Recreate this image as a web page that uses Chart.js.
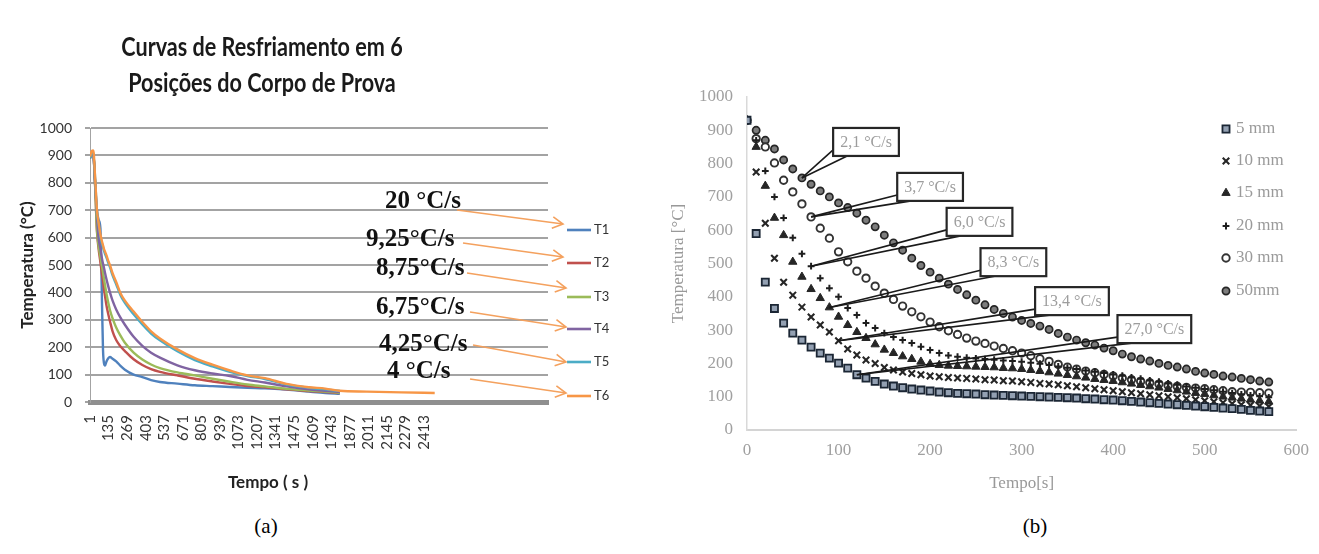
<!DOCTYPE html>
<html><head><meta charset="utf-8">
<script src="https://cdn.jsdelivr.net/npm/chart.js@4.4.1/dist/chart.umd.min.js"></script>
<style>
html,body{margin:0;padding:0;background:#fff;}
#wrap{position:relative;width:1319px;height:554px;overflow:hidden;background:#fff;}
#ca{position:absolute;left:0;top:0;width:660px;height:510px;}
#cb{position:absolute;left:660px;top:0;width:659px;height:510px;}
.cap{position:absolute;top:514px;font-family:'Liberation Serif',serif;font-size:21px;color:#000;transform:translateX(-50%);}
#titleA{position:absolute;left:262px;top:28px;transform:translateX(-50%) scaleX(0.8);transform-origin:center;
  font-family:Lato,sans-serif;font-weight:bold;font-size:27px;line-height:36px;color:#1a1a1a;text-align:center;white-space:nowrap;}
</style></head><body>
<div id="wrap">
<canvas id="ca" width="660" height="510"></canvas>
<canvas id="cb" width="659" height="510"></canvas>
<div id="titleA"></div>
<div class="cap" style="left:266px">(a)</div>
<div class="cap" style="left:1035px">(b)</div>
</div>
<script>
// ---------------- DATA : chart (a) ----------------
const titleA = ['Curvas de Resfriamento em 6', 'Posições do Corpo de Prova'];
const namesA = ['T1', 'T2', 'T3', 'T4', 'T5', 'T6'];
const xTicksA = [1, 135, 269, 403, 537, 671, 805, 939, 1073, 1207, 1341, 1475, 1609, 1743, 1877, 2011, 2145, 2279, 2413];
const tA = [1, 13, 25, 38, 51, 63, 76, 82, 88, 95, 101, 110, 120, 133, 145, 164, 190, 221, 253, 316, 379, 442, 506, 632, 758, 885, 1011, 1138, 1264, 1420, 1580, 1700, 1805, 2000, 2250, 2490];
const T1 = [890, 905, 902, 795, 700, 665, 635, 520, 350, 190, 145, 133, 148, 160, 164, 158, 148, 132, 118, 100, 91, 80, 73, 67, 61, 58, 55, 52, 50, 45, 38, 33, 30, null, null, null];
const T2 = [890, 905, 902, 790, 625, 560, 510, 487, 463, 440, 415, 385, 352, 320, 295, 258, 226, 203, 186, 156, 135, 120, 110, 97, 85, 75, 66, 58, 54, 46, 40, 36, 33, null, null, null];
const T3 = [890, 905, 902, 790, 630, 570, 530, 510, 493, 472, 452, 425, 395, 362, 336, 305, 272, 242, 216, 180, 155, 137, 124, 108, 97, 85, 74, 64, 57, 48, 42, 38, 34, null, null, null];
const T4 = [890, 905, 902, 800, 680, 597, 560, 540, 522, 505, 492, 470, 448, 422, 400, 370, 338, 308, 282, 238, 205, 180, 162, 134, 116, 104, 95, 81, 71, 57, 46, 41, 36, null, null, null];
const T5 = [890, 908, 910, 815, 695, 650, 605, 590, 577, 565, 553, 540, 527, 508, 492, 462, 430, 390, 362, 320, 283, 250, 225, 185, 153, 130, 110, 95, 84, 64, 52, 46, 40, null, null, null];
const T6 = [895, 915, 918, 820, 700, 655, 612, 598, 585, 572, 560, 548, 535, 515, 500, 470, 438, 397, 370, 330, 292, 258, 232, 192, 160, 136, 115, 97, 87, 66, 54, 49, 41, 38, 35, 33];
const ratesA = ['20 °C/s', '9,25°C/s', '8,75°C/s', '6,75°C/s', '4,25°C/s', '4 °C/s'];
const xTitleA = 'Tempo ( s )';
const yTitleA = 'Temperatura (°C)';

// ---------------- DATA : chart (b) ----------------
const namesB = ['5 mm', '10 mm', '15 mm', '20 mm', '30 mm', '50mm'];
const tB = [0, 10, 20, 30, 40, 50, 60, 70, 80, 90, 100, 110, 120, 130, 140, 150, 160, 170, 180, 190, 200, 210, 220, 230, 240, 250, 260, 270, 280, 290, 300, 310, 320, 330, 340, 350, 360, 370, 380, 390, 400, 410, 420, 430, 440, 450, 460, 470, 480, 490, 500, 510, 520, 530, 540, 550, 560, 570];
const s5 = [930, 590, 444, 365, 321, 291, 270, 249, 231, 216, 201, 186, 166, 156, 146, 138, 132, 127, 123, 120, 117, 114, 112, 110, 109, 108, 106, 105, 104, 103, 102, 101, 100, 99, 98, 97, 96, 94, 93, 91, 90, 88, 86, 84, 82, 80, 78, 76, 74, 72, 70, 68, 66, 64, 62, 59, 57, 55];
const s10 = [930, 775, 621, 516, 444, 405, 369, 339, 315, 294, 268, 243, 225, 210, 200, 188, 180, 174, 170, 166, 162, 160, 158, 156, 155, 153, 151, 150, 148, 147, 145, 143, 140, 138, 136, 133, 130, 127, 124, 121, 118, 115, 112, 109, 106, 103, 100, 97, 94, 91, 88, 85, 82, 79, 76, 74, 72, 70];
const s15 = [930, 850, 733, 637, 585, 505, 460, 423, 396, 368, 340, 315, 294, 276, 257, 241, 231, 221, 213, 205, 198, 195, 193, 192, 191, 190, 189, 188, 186, 185, 183, 180, 177, 173, 169, 165, 161, 157, 153, 150, 147, 143, 139, 135, 131, 127, 123, 119, 115, 111, 108, 104, 100, 97, 94, 91, 88, 85];
const s20 = [930, 870, 778, 700, 637, 577, 529, 492, 456, 426, 400, 366, 345, 321, 306, 291, 279, 270, 261, 250, 240, 231, 224, 220, 217, 215, 213, 211, 209, 207, 205, 202, 199, 195, 191, 187, 183, 179, 175, 171, 167, 163, 158, 154, 149, 145, 140, 136, 131, 127, 123, 119, 115, 111, 107, 104, 101, 98];
const s30 = [930, 875, 850, 802, 750, 715, 679, 640, 606, 576, 535, 505, 477, 456, 432, 411, 392, 372, 355, 340, 324, 310, 298, 287, 276, 267, 260, 252, 245, 238, 231, 223, 214, 206, 197, 189, 183, 177, 172, 167, 162, 156, 151, 146, 142, 138, 134, 131, 128, 126, 124, 121, 118, 115, 114, 113, 112, 111];
const s50 = [930, 900, 870, 844, 811, 784, 757, 738, 718, 700, 682, 668, 651, 630, 610, 585, 562, 540, 516, 494, 474, 456, 438, 422, 406, 390, 376, 362, 350, 339, 329, 320, 312, 302, 290, 279, 270, 262, 255, 246, 238, 228, 220, 213, 207, 200, 194, 189, 183, 176, 171, 167, 162, 159, 155, 151, 147, 144];
const ratesB = ['2,1 °C/s', '3,7 °C/s', '6,0 °C/s', '8,3 °C/s', '13,4 °C/s', '27,0 °C/s'];
const rateAtB = [[130, 865], [200, 730], [254, 625], [291, 504], [355, 387], [445, 303]]; // box centre (t, T)
const rateTargetB = [[5, 6], [4, 7], [3, 7], [2, 9], [1, 10], [0, 12]];        // [series, point]

// ---------------- STYLE / LAYOUT ----------------
const colorsA = ['#4F81BD', '#C0504D', '#9BBB59', '#8064A2', '#4BACC6', '#F79646'];
const layA = {
  legendX1: 567, legendX2: 591, legendTextX: 594, legendY: [230, 263, 297, 329, 362, 396],
  textLeft: [385, 366, 376, 376, 379, 387], textY: [202, 240, 269, 308, 345, 372],
  arrowFrom: [[457, 210], [463, 243], [467, 273], [470, 312], [473, 345], [470, 379]],
  arrowTo: [[563, 224], [563, 257], [566, 288], [566, 327], [566, 362], [566, 393]],
  xTitle: [268, 483]
};
const layB = { legendMarkX: 566, legendTextX: 576, legendY: [129, 161, 193, 226, 258, 291] };
const stylesB = [
  { pointStyle: 'rect', radius: 5, bg: '#93a0b2', border: '#1b2634', bw: 1.8 },
  { pointStyle: 'crossRot', radius: 4.6, bg: '#222', border: '#262626', bw: 2.1 },
  { pointStyle: 'triangle', radius: 4.8, bg: '#262626', border: '#262626', bw: 1 },
  { pointStyle: 'cross', radius: 3.4, bg: '#222', border: '#1e1e1e', bw: 2 },
  { pointStyle: 'circle', radius: 3.7, bg: '#ffffff', border: '#333', bw: 1.9 },
  { pointStyle: 'circle', radius: 3.6, bg: '#7d7d7d', border: '#262626', bw: 1.7 }
];
document.getElementById('titleA').innerHTML = titleA.join('<br>');

// ---------------- CHART (a) ----------------
const seriesA = [T1, T2, T3, T4, T5, T6];
const overlayA = {
  id: 'overlayA',
  afterDraw(chart) {
    const ctx = chart.ctx;
    ctx.save();
    chart.data.datasets.forEach((ds, i) => {
      const y = layA.legendY[i];
      ctx.strokeStyle = ds.borderColor; ctx.lineWidth = 2.6;
      ctx.beginPath(); ctx.moveTo(layA.legendX1, y); ctx.lineTo(layA.legendX2, y); ctx.stroke();
      ctx.fillStyle = '#333'; ctx.font = '13px Lato'; ctx.textBaseline = 'middle'; ctx.textAlign = 'left';
      ctx.fillText(ds.label, layA.legendTextX, y);
    });
    ctx.strokeStyle = '#F4A15E'; ctx.lineWidth = 1.6;
    ratesA.forEach((txt, i) => {
      const [x1, y1] = layA.arrowFrom[i], [x2, y2] = layA.arrowTo[i];
      ctx.beginPath(); ctx.moveTo(x1, y1); ctx.lineTo(x2, y2); ctx.stroke();
      const a = Math.atan2(y2 - y1, x2 - x1), L = 12, w = 0.5;
      ctx.beginPath();
      ctx.moveTo(x2 - L * Math.cos(a - w), y2 - L * Math.sin(a - w));
      ctx.lineTo(x2, y2);
      ctx.lineTo(x2 - L * Math.cos(a + w), y2 - L * Math.sin(a + w));
      ctx.stroke();
    });
    ctx.fillStyle = '#111'; ctx.font = 'bold 25px "Liberation Serif"'; ctx.textBaseline = 'middle'; ctx.textAlign = 'left';
    ratesA.forEach((txt, i) => ctx.fillText(txt, layA.textLeft[i], layA.textY[i]));
    ctx.fillStyle = '#222'; ctx.font = 'bold 17px Lato'; ctx.textAlign = 'center';
    ctx.fillText(xTitleA, layA.xTitle[0], layA.xTitle[1]);
    ctx.restore();
  }
};

new Chart(document.getElementById('ca'), {
  type: 'line',
  data: {
    datasets: seriesA.map((s, i) => ({
      label: namesA[i],
      data: tA.map((t, k) => ({ x: t, y: s[k] })),
      borderColor: colorsA[i], backgroundColor: colorsA[i],
      borderWidth: 2.4, pointRadius: 0, tension: 0.35, cubicInterpolationMode: 'monotone',
      spanGaps: false, order: 6 - i
    }))
  },
  options: {
    responsive: false, animation: false, events: [],
    layout: { padding: { left: 4, right: 112, top: 128, bottom: 0 } },
    plugins: { legend: { display: false }, tooltip: { enabled: false } },
    scales: {
      x: {
        type: 'linear', min: 1, max: 3308,
        afterBuildTicks: s => { s.ticks = xTicksA.map(v => ({ value: v })); },
        afterFit: s => { s.height = 108; },
        ticks: { autoSkip: false, minRotation: 90, maxRotation: 90, padding: 13, color: '#333',
          font: { family: 'Lato', size: 15 }, callback: v => String(v) },
        grid: { display: false, drawTicks: false },
        border: { display: true, color: '#8f8f8f', width: 5 }
      },
      y: {
        min: 0, max: 1000,
        afterFit: s => { s.width = 86; },
        ticks: { stepSize: 100, padding: 13, color: '#333', font: { family: 'Lato', size: 14 }, callback: v => String(v) },
        grid: { color: '#a3a3a3', lineWidth: 2, tickLength: 5 },
        border: { display: true, color: '#a3a3a3', width: 1 },
        title: { display: true, text: yTitleA, color: '#222',
          font: { family: 'Lato', weight: 'bold', size: 17 }, padding: { top: 13, bottom: 0 } }
      }
    }
  },
  plugins: [overlayA]
});

// ---------------- CHART (b) ----------------
const seriesB = [s5, s10, s15, s20, s30, s50];
const overlayB = {
  id: 'overlayB',
  afterDraw(chart) {
    const ctx = chart.ctx;
    ctx.save();
    chart.data.datasets.forEach((ds, i) => {
      const st = stylesB[i], y = layB.legendY[i];
      ctx.fillStyle = st.bg; ctx.strokeStyle = st.border; ctx.lineWidth = st.bw;
      Chart.helpers.drawPoint(ctx, { pointStyle: st.pointStyle, radius: st.radius, rotation: 0, borderWidth: st.bw }, layB.legendMarkX, y);
      ctx.fillStyle = '#9a9a9a'; ctx.font = '17px "Liberation Serif"'; ctx.textBaseline = 'middle'; ctx.textAlign = 'left';
      ctx.fillText(ds.label, layB.legendTextX, y);
    });
    const xs = chart.scales.x, ys = chart.scales.y;
    ctx.font = '16px "Liberation Serif"';
    ratesB.forEach((txt, i) => {
      const cx = xs.getPixelForValue(rateAtB[i][0]), cy = ys.getPixelForValue(rateAtB[i][1]);
      const w = ctx.measureText(txt).width + 14, h = 28;
      const left = cx - w / 2, top = cy - h / 2, bottom = cy + h / 2;
      const [si, pi] = rateTargetB[i];
      const pt = chart.getDatasetMeta(si).data[pi];
      ctx.strokeStyle = '#1a1a1a'; ctx.lineWidth = 1.6;
      ctx.beginPath(); ctx.moveTo(pt.x, pt.y); ctx.lineTo(left, bottom - 6); ctx.stroke();
      ctx.beginPath(); ctx.moveTo(pt.x, pt.y); ctx.lineTo(left + 14, bottom); ctx.stroke();
      ctx.fillStyle = '#fff'; ctx.fillRect(left, top, w, h);
      ctx.lineWidth = 2.2; ctx.strokeStyle = '#262626'; ctx.strokeRect(left, top, w, h);
      ctx.fillStyle = '#9d9d9d'; ctx.textAlign = 'center'; ctx.textBaseline = 'middle';
      ctx.fillText(txt, cx, cy + 1);
    });
    ctx.restore();
  }
};

new Chart(document.getElementById('cb'), {
  type: 'scatter',
  data: {
    datasets: seriesB.map((s, i) => ({
      label: namesB[i],
      data: tB.map((t, k) => ({ x: t, y: s[k] })),
      showLine: false,
      pointStyle: stylesB[i].pointStyle, pointRadius: stylesB[i].radius,
      pointBackgroundColor: stylesB[i].bg, pointBorderColor: stylesB[i].border,
      pointBorderWidth: stylesB[i].bw
    }))
  },
  options: {
    responsive: false, animation: false, events: [],
    layout: { padding: { left: 8, right: 14, top: 97, bottom: 0 } },
    plugins: { legend: { display: false }, tooltip: { enabled: false } },
    scales: {
      x: {
        type: 'linear', min: 0, max: 600,
        afterFit: s => { s.height = 80; },
        ticks: { stepSize: 100, padding: 10, color: '#a0a0a0', font: { family: 'Liberation Serif', size: 17 }, callback: v => String(v) },
        grid: { display: false, drawTicks: false },
        border: { display: true, color: '#d4d4d4', width: 2 },
        title: { display: true, text: 'Tempo[s]', color: '#999', font: { family: 'Liberation Serif', size: 17 }, padding: { top: 0, bottom: 16 } }
      },
      y: {
        min: 0, max: 1000,
        afterFit: s => { s.width = 79; },
        ticks: { stepSize: 100, padding: 14, color: '#a0a0a0', font: { family: 'Liberation Serif', size: 17 }, callback: v => String(v) },
        grid: { display: false, drawTicks: false },
        border: { display: true, color: '#d9d9d9', width: 1.5 },
        title: { display: true, text: 'Temperatura [°C]', color: '#999', font: { family: 'Liberation Serif', size: 17 }, padding: { top: 0, bottom: 0 } }
      }
    }
  },
  plugins: [overlayB]
});
</script>
</body></html>
